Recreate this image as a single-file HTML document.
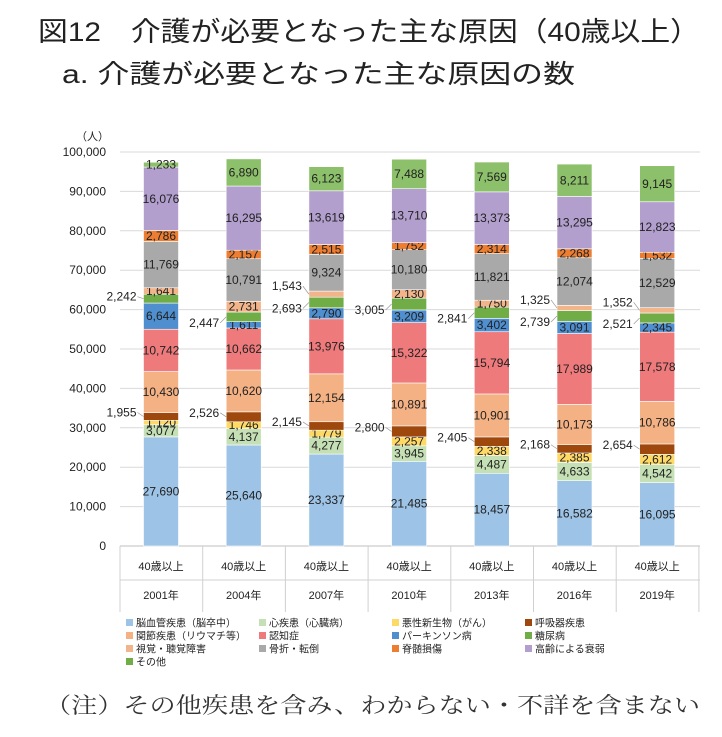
<!DOCTYPE html>
<html><head><meta charset="utf-8"><style>
body{margin:0;background:#fff;width:722px;height:732px;overflow:hidden;font-family:"Liberation Sans","Noto Sans CJK JP",sans-serif}
</style></head><body>
<svg id="s" width="722" height="732" xmlns="http://www.w3.org/2000/svg" font-family="Liberation Sans, Noto Sans CJK JP, sans-serif">
<text x="38" y="41" font-size="27" fill="#222" textLength="662" lengthAdjust="spacingAndGlyphs">図12　介護が必要となった主な原因（40歳以上）</text>
<text x="62" y="83" font-size="26" fill="#222" textLength="513" lengthAdjust="spacingAndGlyphs">a.  介護が必要となった主な原因の数</text>
<text x="45" y="713" font-size="22" fill="#333" font-family="Noto Serif CJK JP, serif" textLength="655" lengthAdjust="spacingAndGlyphs">（注）その他疾患を含み、わからない・不詳を含まない</text>
<text x="76" y="140" font-size="11" fill="#222">（人）</text>
<g id="g"></g>
</svg>
<script>
const g=document.getElementById('g');const NS='http://www.w3.org/2000/svg';
function el(t,a,txt){const e=document.createElementNS(NS,t);for(const k in a)e.setAttribute(k,a[k]);if(txt!==undefined)e.textContent=txt;g.appendChild(e);return e;}
const y0=546,k=394/100000;
for(let i=0;i<=10;i++){const y=y0-i*10000*k;
 if(i>0)el('line',{x1:120,x2:700,y1:y,y2:y,stroke:'#d9d9d9','stroke-width':1});
 el('text',{x:106,y:y+4,'font-size':12,'text-anchor':'end',fill:'#222'},(i*10000).toLocaleString('en-US'));}
el('line',{x1:120,x2:700,y1:y0,y2:y0,stroke:'#bfbfbf'});
const cols=['#9dc3e6','#c5e0b4','#ffd966','#9e480e','#f4b183','#ef7a7c','#4f8fcf','#70ad47','#f2b48a','#a9a9a9','#ed7d31','#b29fce','#8cc06a'];
const D=[[27690,3077,1120,1955,10430,10742,6644,2242,1641,11769,2786,16076,1233],
[25640,4137,1746,2526,10620,10662,1611,2447,2731,10791,2157,16295,6890],
[23337,4277,1779,2145,12154,13976,2790,2693,1543,9324,2515,13619,6123],
[21485,3945,2257,2800,10891,15322,3209,3005,2130,10180,1752,13710,7488],
[18457,4487,2338,2405,10901,15794,3402,2841,1750,11821,2314,13373,7569],
[16582,4633,2385,2168,10173,17989,3091,2739,1325,12074,2268,13295,8211],
[16095,4542,2612,2654,10786,17578,2345,2521,1352,12529,1532,12823,9145]];
const yrs=['2001年','2004年','2007年','2010年','2013年','2016年','2019年'];
const outV=[2,5,6];
for(let b=0;b<7;b++){const cx=161+b*82.7,x=cx-17.5;let cum=0;
 for(let s=0;s<13;s++){const v=D[b][s];const yt=y0-(cum+v)*k,h=v*k;
  el('rect',{x:x,y:yt,width:35,height:h,fill:cols[s],stroke:'#fff','stroke-width':0.6});
  const ym=yt+h/2;const lab=v.toLocaleString('en-US');
  const out=(s==3||s==7||(s==8&&outV.includes(b)));
  if(out){let dy=0;if(s==7)dy=(b==0?-2:6);if(s==8)dy=-8;if(s==3)dy=-4;
   el('line',{x1:x-6,x2:x,y1:ym+dy,y2:ym,stroke:'#999','stroke-width':0.7});
   el('text',{x:x-7,y:ym+dy+4,'font-size':12,'text-anchor':'end',fill:'#222'},lab);}
  else el('text',{x:cx,y:ym+4,'font-size':12,'text-anchor':'middle',fill:'#222'},lab);
  cum+=v;}
 el('text',{x:cx,y:570,'font-size':11,'text-anchor':'middle',fill:'#222'},'40歳以上');
 el('text',{x:cx,y:599,'font-size':11,'text-anchor':'middle',fill:'#222'},yrs[b]);}
for(let i=0;i<=7;i++){const x=120+i*82.7;el('line',{x1:x,x2:x,y1:546,y2:612,stroke:'#d0d0d0'});}
el('line',{x1:120,x2:700,y1:580,y2:580,stroke:'#d0d0d0'});
const L=['脳血管疾患（脳卒中）','心疾患（心臓病）','悪性新生物（がん）','呼吸器疾患','関節疾患（リウマチ等）','認知症','パーキンソン病','糖尿病','視覚・聴覚障害','骨折・転倒','脊髄損傷','高齢による衰弱','その他'];
const lc=['#9dc3e6','#c5e0b4','#ffd966','#9e480e','#f4b183','#ef7a7c','#4f8fcf','#70ad47','#f2b48a','#a9a9a9','#ed7d31','#b29fce','#70ad47'];
for(let i=0;i<13;i++){const c=i%4,r=Math.floor(i/4);const x=126+c*133,y=619+r*13;
 el('rect',{x:x,y:y,width:7,height:7,fill:lc[i]});
 el('text',{x:x+10,y:y+7.5,'font-size':10,fill:'#222'},L[i]);}
</script>
</body></html>
